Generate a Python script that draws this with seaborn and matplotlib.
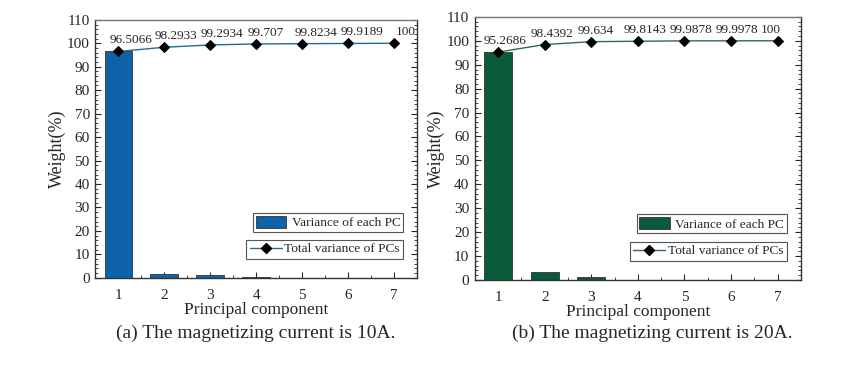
import numpy as np
import pandas as pd
import matplotlib
matplotlib.use("Agg")
import matplotlib.pyplot as plt
import seaborn as sns
from matplotlib.patches import Patch
from matplotlib.lines import Line2D
from matplotlib.ticker import MultipleLocator

sns.set_theme(style="ticks")
plt.rcParams['font.family'] = ['Liberation Serif', 'DejaVu Serif']

components = [1, 2, 3, 4, 5, 6, 7]
variance_10A = [96.5066, 1.7867, 1.0001, 0.4136, 0.1164, 0.0955, 0.0811]
total_10A = [96.5066, 98.2933, 99.2934, 99.707, 99.8234, 99.9189, 100]
labels_10A = ["96.5066", "98.2933", "99.2934", "99.707", "99.8234", "99.9189", "100"]
variance_20A = [95.2686, 3.1706, 1.1948, 0.1803, 0.1735, 0.0100, 0.0022]
total_20A = [95.2686, 98.4392, 99.634, 99.8143, 99.9878, 99.9978, 100]
labels_20A = ["95.2686", "98.4392", "99.634", "99.8143", "99.9878", "99.9978", "100"]
captions = ["(a) The magnetizing current is 10A.", "(b) The magnetizing current is 20A."]

# layout (label offsets in pixels)
label_dx = [[13, 12, 12, 10, 14, 14, 12], [7, 7, 4, 7, 7, 6, -7]]
label_dy = 11

bar_colors = ["#0E63A8", "#0B5A3A"]
line_colors = ["#1F6E9E", "#2E6B55"]

fig = plt.figure(figsize=(8.51, 3.67), dpi=100)
positions = [[0.112, 0.243, 0.378, 0.703], [0.558, 0.237, 0.383, 0.717]]
datasets = [(variance_10A, total_10A, labels_10A), (variance_20A, total_20A, labels_20A)]
cap_x = [0.30, 0.766]
px2pt = 0.72

for i, (var, tot, labs) in enumerate(datasets):
    ax = fig.add_axes(positions[i])
    df = pd.DataFrame({"pc": components, "var": var, "tot": tot})
    sns.barplot(data=df, x="pc", y="var", native_scale=True, width=0.6,
                color=bar_colors[i], saturation=1, edgecolor="#333333",
                linewidth=0.6, ax=ax)
    sns.lineplot(data=df, x="pc", y="tot", color=line_colors[i], linewidth=1.0,
                 marker="D", markersize=5.5, markerfacecolor="black",
                 markeredgecolor="black", ax=ax)
    for x, y, s, dx in zip(components, tot, labs, label_dx[i]):
        ax.annotate(s, (x, y), xytext=(dx * px2pt, label_dy * px2pt),
                    textcoords="offset points",
                    ha="center", va="center", fontsize=9.5)
    ax.set_xlim(0.5, 7.5)
    ax.set_ylim(0, 110)
    ax.set_xticks(components)
    ax.set_yticks(range(0, 111, 10))
    ax.yaxis.set_minor_locator(MultipleLocator(2))
    ax.xaxis.set_minor_locator(MultipleLocator(0.5))
    ax.tick_params(axis="both", which="both", direction="in", labelsize=11,
                   right=True, top=False)
    ax.tick_params(which="major", length=4, width=0.8, pad=4)
    ax.tick_params(axis="x", which="major", pad=8)
    ax.tick_params(which="minor", length=2, width=0.6)
    for sp in ax.spines.values():
        sp.set_linewidth(1.0)
        sp.set_color("#333333")
    ax.spines["top"].set_color("#777777")
    ax.set_xlabel("Principal component", fontsize=12.5, labelpad=0)
    ax.set_ylabel("Weight(%)", fontsize=13, labelpad=1)

    h1 = Patch(facecolor=bar_colors[i], edgecolor="#333333", linewidth=0.6)
    h2 = Line2D([], [], color=line_colors[i], linewidth=1.0, marker="D",
                markersize=5.5, markerfacecolor="black", markeredgecolor="black")
    leg1 = ax.legend([h1], ["Variance of each PC"], loc="lower right",
                     bbox_to_anchor=(0.957, 0.178), borderaxespad=0,
                     fontsize=9.6, fancybox=False,
                     framealpha=1, edgecolor="#555555", handlelength=2.3,
                     handleheight=1.0, borderpad=0.2, handletextpad=0.4)
    leg1.get_frame().set_linewidth(0.8)
    ax.add_artist(leg1)
    leg2 = ax.legend([h2], ["Total variance of PCs"], loc="lower right",
                     bbox_to_anchor=(0.957, 0.074), borderaxespad=0,
                     fontsize=9.6, fancybox=False,
                     framealpha=1, edgecolor="#555555", handlelength=2.4,
                     borderpad=0.25, handletextpad=0.2)
    leg2.get_frame().set_linewidth(0.8)

    fig.text(cap_x[i], 0.092, captions[i], ha="center", va="center", fontsize=14)

fig.savefig("out.png", dpi=100)
